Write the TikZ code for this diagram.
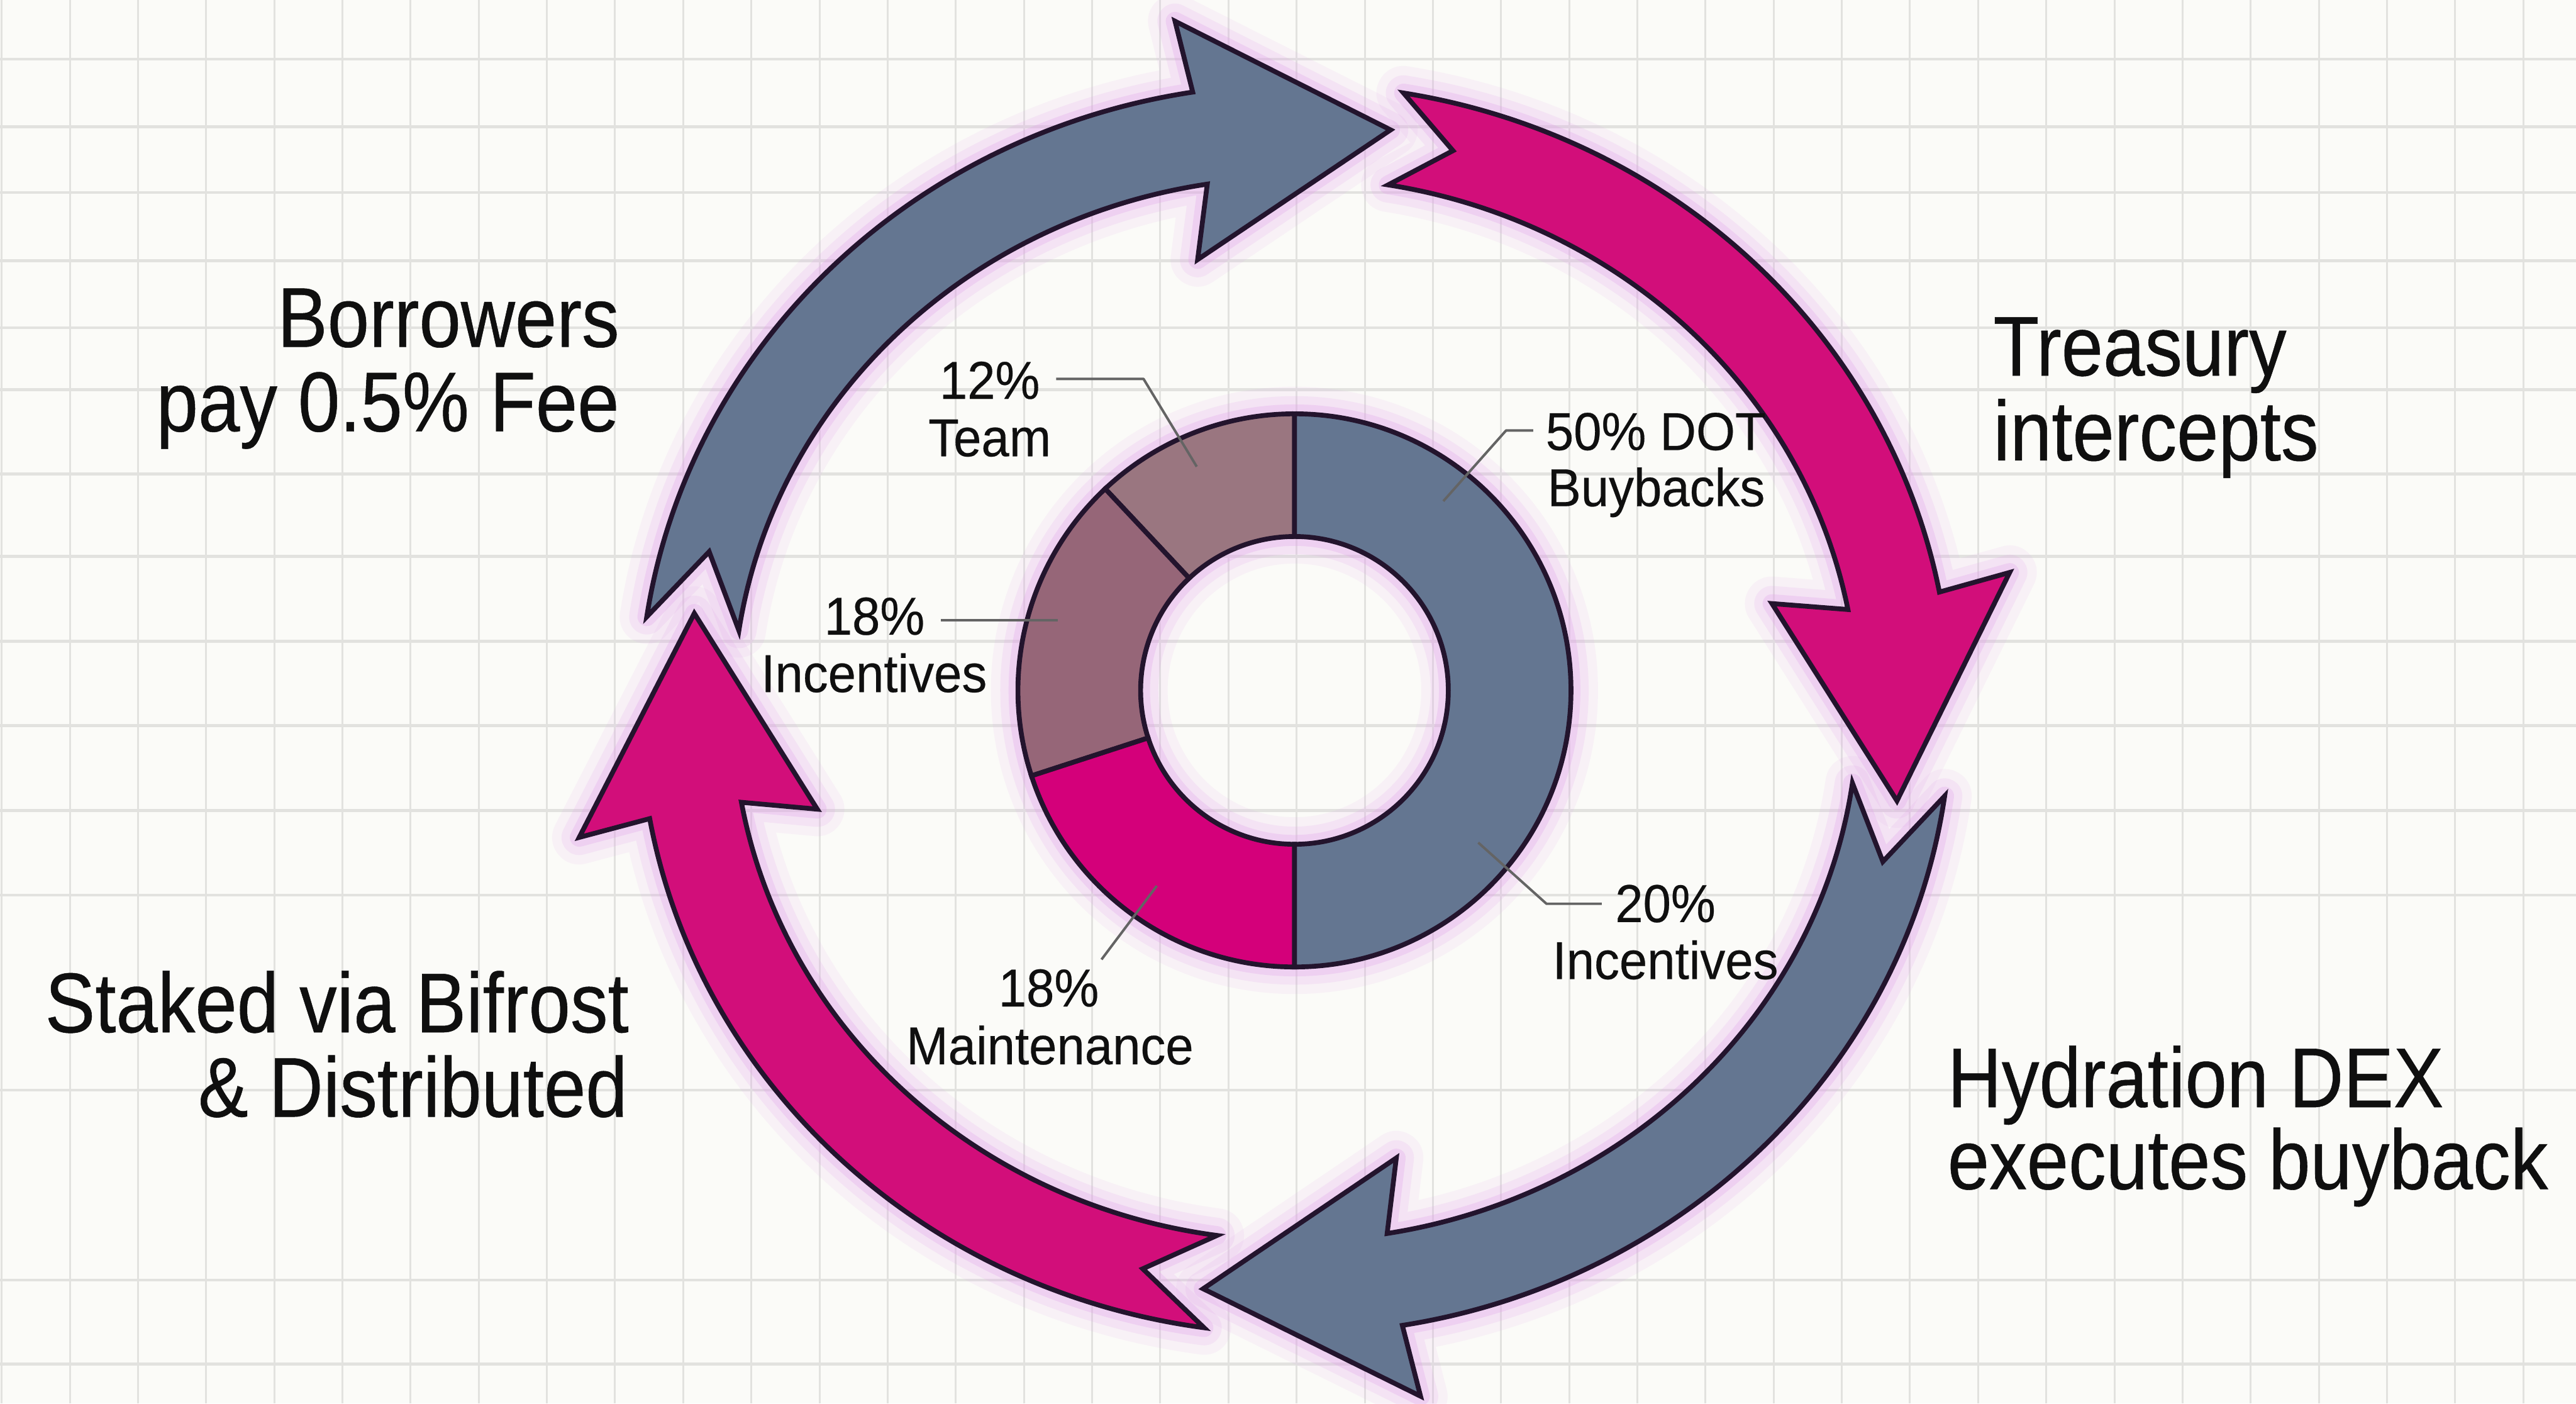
\documentclass[tikz,border=0pt]{standalone}
\usepackage{fontspec}
\setmainfont{Liberation Sans}
\newfontfamily\bigfont{Liberation Sans}[FakeStretch=0.885, FakeBold=0.4]
\newfontfamily\smallfont{Liberation Sans}[FakeStretch=0.94, FakeBold=0.3]

\definecolor{bgcol}{RGB}{251,251,248}
\definecolor{gridcol}{RGB}{226,226,223}
\definecolor{slate}{RGB}{100,118,145}
\definecolor{berry}{RGB}{210,14,122}
\definecolor{teamcol}{RGB}{154,118,128}
\definecolor{inccol}{RGB}{150,102,120}
\definecolor{maintcol}{RGB}{212,0,122}
\definecolor{ink}{RGB}{35,20,45}
\definecolor{leadgray}{RGB}{100,100,100}
\definecolor{glowcol}{RGB}{225,160,235}
\definecolor{txt}{RGB}{15,15,15}

% ring geometry (cm): outer / inner edge, midline, barbs, tip
\def\rgAo{15.77}\def\rgBo{15.02}
\def\rgAi{13.53}\def\rgBi{12.78}
\def\rgAm{14.65}\def\rgBm{13.90}
\def\rgAbo{17.52}\def\rgBbo{16.77}
\def\rgAbi{11.78}\def\rgBbi{11.03}
\def\rgAt{14.65}\def\rgBt{14.10}
\def\dRout{6.65}\def\dRin{3.70}

% curved block arrow running clockwise along the ring
% #1 style, #2 tail angle, #3 head base angle, #4 tip angle, #5 notch depth (deg)
\newcommand{\ringarrow}[5]{%
  \path[#1] ({#2}:{\rgAo} and {\rgBo})
    arc[start angle=#2, end angle=#3, x radius=\rgAo, y radius=\rgBo]
    -- ({#3+0.5}:{\rgAbo} and {\rgBbo})
    -- ({#4}:{\rgAt} and {\rgBt})
    -- ({#3+2.5}:{\rgAbi} and {\rgBbi})
    -- ({#3}:{\rgAi} and {\rgBi})
    arc[start angle=#3, end angle=#2, x radius=\rgAi, y radius=\rgBi]
    -- ({#2-#5}:{\rgAm} and {\rgBm}) -- cycle;}

\newcommand{\allarrows}[1]{%
  \ringarrow{#1}{171.5}{99}{81}{7.3}%
  \ringarrow{#1}{80.5}{10.8}{-9}{5.5}%
  \ringarrow{#1}{-8}{-80.6}{-98.7}{7.3}%
  \ringarrow{#1}{262}{190.1}{170.6}{6.5}}

% annular sector of the donut chart
\newcommand{\donutseg}[3]{%
  \filldraw[fill=#3, outline] (#1:\dRout)
    arc[start angle=#1, end angle=#2, radius=\dRout]
    -- (#2:\dRin) arc[start angle=#2, end angle=#1, radius=\dRin] -- cycle;}

\tikzset{
  big/.style={font=\bigfont\fontsize{58}{60}\selectfont, inner sep=0pt, text=txt},
  small/.style={font=\smallfont\fontsize{36.5}{40}\selectfont, inner sep=0pt, text=txt},
  leader/.style={draw=leadgray, line width=1.7pt, line join=round},
  outline/.style={draw=ink, line width=3.3pt, line join=miter},
  gridv/.style={draw=gridcol, line width=1.3pt},
  gridh/.style={draw=gridcol, line width=2.0pt},
  glowA/.style={draw=glowcol, line width=1.3cm, opacity=0.10, line join=round},
  glowB/.style={draw=glowcol, line width=0.85cm, opacity=0.16, line join=round},
  glowC/.style={draw=glowcol, line width=0.45cm, opacity=0.28, line join=round},
}

\begin{document}
\begin{tikzpicture}[x=1cm,y=1cm]
  \fill[bgcol] (0,0) rectangle (61.95,33.75);
  \useasboundingbox (0,0) rectangle (61.95,33.75);

  % graph-paper grid
  \foreach \k in {0,...,37}
    \draw[gridv] ({0.04+1.639*\k},0) -- ({0.04+1.639*\k},33.75);
  \foreach \p in {142,305,463,627,788,937,1140,1338,1542,1745,1949,2152,2621,3078,3280}
    \draw[gridh] (0,{33.75-\p/100}) -- (61.95,{33.75-\p/100});

  % cycle of four arrows
  \begin{scope}[shift={(31.15,16.70)}]
    \allarrows{glowA}
    \allarrows{glowB}
    \allarrows{glowC}
    \ringarrow{fill=slate, outline}{171.5}{99}{81}{7.3}
    \ringarrow{fill=berry, outline}{80.5}{10.8}{-9}{5.5}
    \ringarrow{fill=slate, outline}{-8}{-80.6}{-98.7}{7.3}
    \ringarrow{fill=berry, outline}{262}{190.1}{170.6}{6.5}
  \end{scope}

  % donut chart
  \begin{scope}[shift={(31.13,17.15)}]
    \foreach \s in {glowA,glowB,glowC} {
      \draw[\s] (0,0) circle[radius=\dRout];
      \draw[\s] (0,0) circle[radius=\dRin];
    }
    \donutseg{90}{-90}{slate}
    \donutseg{90}{133.2}{teamcol}
    \donutseg{133.2}{198}{inccol}
    \donutseg{198}{270}{maintcol}
  \end{scope}

  % leader lines
  \coordinate (ta) at (25.40,24.64); \coordinate (tb) at (27.50,24.64); \coordinate (tc) at (28.78,22.53);
  \coordinate (da) at (36.87,23.40); \coordinate (db) at (36.22,23.40); \coordinate (dc) at (34.71,21.70);
  \coordinate (ia) at (38.52,12.02); \coordinate (ib) at (37.19,12.02); \coordinate (ic) at (35.55,13.49);
  \coordinate (ea) at (22.63,18.84); \coordinate (eb) at (25.44,18.84);
  \coordinate (ma) at (26.49,10.68); \coordinate (mb) at (27.82,12.45);
  \draw[leader] (ta) -- (tb) -- (tc);
  \draw[leader] (da) -- (db) -- (dc);
  \draw[leader] (ia) -- (ib) -- (ic);
  \draw[leader] (ea) -- (eb);
  \draw[leader] (ma) -- (mb);

  % donut labels
  \node[small, anchor=base] (team1) at (23.80,24.16) {12\%};
  \node[small, anchor=base] (team2) at (23.80,22.78) {Team};
  \node[small, anchor=base] (dot1) at (39.82,22.93) {50\% DOT};
  \node[small, anchor=base] (dot2) at (39.83,21.58) {Buybacks};
  \node[small, anchor=base] (inl1) at (21.03,18.49) {18\%};
  \node[small, anchor=base] (inl2) at (21.02,17.11) {Incentives};
  \node[small, anchor=base] (mnt1) at (25.22,9.55) {18\%};
  \node[small, anchor=base] (mnt2) at (25.25,8.16) {Maintenance};
  \node[small, anchor=base] (inr1) at (40.05,11.58) {20\%};
  \node[small, anchor=base] (inr2) at (40.05,10.21) {Incentives};

  % step labels
  \node[big, anchor=base east] (bor1) at (14.90,25.41) {Borrowers};
  \node[big, anchor=base east] (bor2) at (14.90,23.38) {pay 0.5\% Fee};
  \node[big, anchor=base west] (tre1) at (47.93,24.72) {Treasury};
  \node[big, anchor=base west] (tre2) at (47.93,22.68) {intercepts};
  \node[big, anchor=base west] (hyd1) at (46.83,7.13) {Hydration DEX};
  \node[big, anchor=base west] (hyd2) at (46.83,5.16) {executes buyback};
  \node[big, anchor=base east] (stk1) at (15.13,8.93) {Staked via Bifrost};
  \node[big, anchor=base east] (stk2) at (15.10,6.90) {\& Distributed};
\end{tikzpicture}
\end{document}
